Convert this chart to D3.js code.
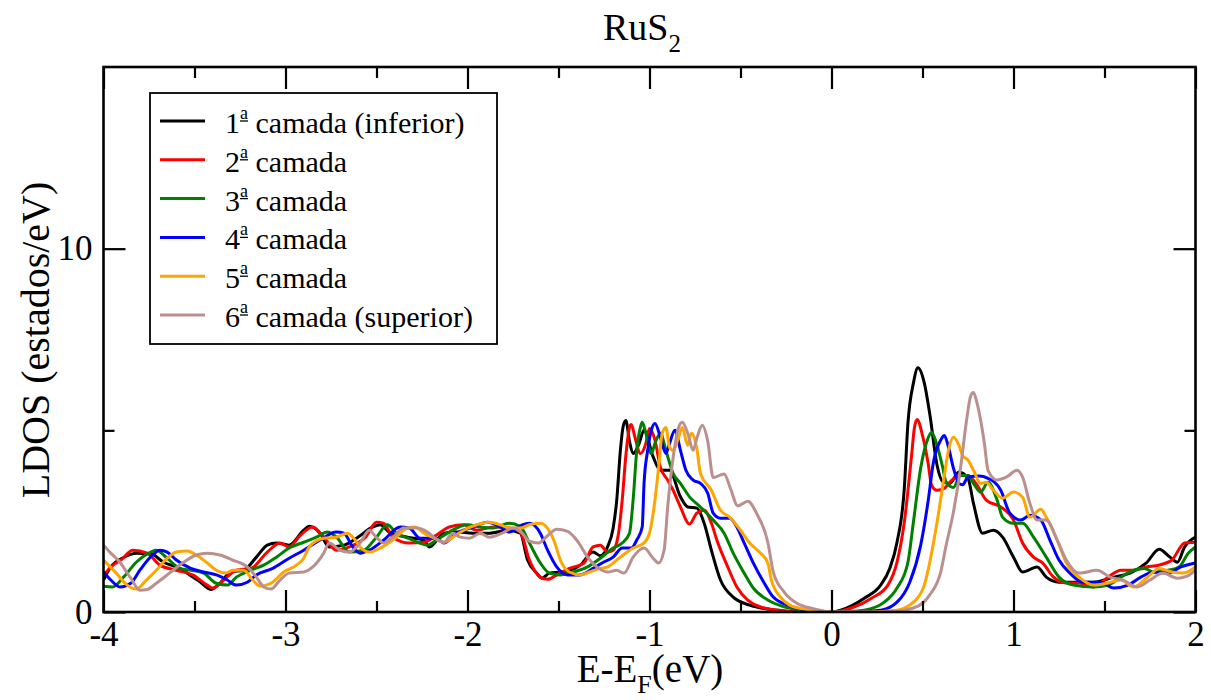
<!DOCTYPE html>
<html><head><meta charset="utf-8">
<script src="https://cdn.jsdelivr.net/npm/d3@7"></script>
<style>body{margin:0;background:#fff}svg{display:block}</style>
</head><body><svg id="c" width="1211" height="700"></svg>
<script>
const FONT = '"Liberation Serif", "Times New Roman", serif';
const layerNames = ["1", "2", "3", "4", "5", "6"];
const layerSuffix = [" camada (inferior)", " camada", " camada", " camada", " camada", " camada (superior)"];
const layerColors = ["#000000", "#ff0000", "#008000", "#0000ff", "#ffa500", "#bc8f8f"];
const xTicks = [-4, -3, -2, -1, 0, 1, 2];
const yTicks = [0, 10];

const layer1 = [[-4.00,0.88],[-3.96,1.24],[-3.89,1.50],[-3.82,1.62],[-3.74,1.60],[-3.67,1.37],[-3.58,1.20],[-3.52,1.00],[-3.47,0.83],[-3.41,0.62],[-3.36,0.79],[-3.30,1.10],[-3.23,1.15],[-3.16,1.51],[-3.10,1.84],[-3.05,1.90],[-2.98,1.84],[-2.90,2.25],[-2.87,2.36],[-2.81,2.17],[-2.76,1.79],[-2.68,1.84],[-2.61,2.03],[-2.52,2.34],[-2.48,2.40],[-2.43,2.20],[-2.33,2.06],[-2.24,1.98],[-2.21,1.79],[-2.13,2.17],[-2.06,2.20],[-1.97,2.17],[-1.88,2.17],[-1.78,2.25],[-1.71,2.17],[-1.67,1.43],[-1.62,1.07],[-1.59,0.93],[-1.55,1.07],[-1.48,1.10],[-1.38,1.29],[-1.31,1.65],[-1.27,1.55],[-1.23,1.80],[-1.20,2.30],[-1.18,3.08],[-1.16,4.45],[-1.145,5.10],[-1.13,5.27],[-1.11,4.70],[-1.09,4.36],[-1.06,4.60],[-1.03,5.00],[-0.98,4.27],[-0.94,3.90],[-0.89,3.90],[-0.83,3.17],[-0.79,2.89],[-0.74,2.86],[-0.70,2.45],[-0.66,1.70],[-0.61,0.88],[-0.54,0.41],[-0.45,0.19],[-0.35,0.08],[-0.26,0.03],[-0.15,0.00],[0.00,0.00],[0.05,0.05],[0.18,0.38],[0.27,0.74],[0.32,1.20],[0.36,1.92],[0.40,3.40],[0.42,5.20],[0.45,6.30],[0.475,6.72],[0.51,6.30],[0.54,5.45],[0.58,4.04],[0.61,3.60],[0.65,3.54],[0.70,3.85],[0.75,3.68],[0.78,2.99],[0.83,2.17],[0.89,2.25],[0.94,2.06],[1.00,1.51],[1.05,1.10],[1.13,1.24],[1.18,0.96],[1.25,0.82],[1.33,0.82],[1.44,0.82],[1.55,0.96],[1.64,1.07],[1.73,1.35],[1.80,1.73],[1.86,1.51],[1.90,1.37],[1.94,1.79],[2.00,2.06]];
const layer2 = [[-4.00,1.00],[-3.96,1.24],[-3.90,1.45],[-3.84,1.70],[-3.76,1.62],[-3.69,1.29],[-3.60,1.15],[-3.51,1.02],[-3.43,0.74],[-3.40,0.66],[-3.34,0.88],[-3.27,1.15],[-3.19,1.20],[-3.10,1.65],[-3.03,1.90],[-2.98,1.79],[-2.92,2.10],[-2.85,2.34],[-2.79,2.06],[-2.72,1.70],[-2.65,1.79],[-2.56,2.06],[-2.50,2.47],[-2.46,2.44],[-2.41,2.06],[-2.32,1.90],[-2.24,1.92],[-2.17,2.12],[-2.10,2.34],[-2.02,2.40],[-1.95,2.25],[-1.86,2.34],[-1.77,2.31],[-1.71,2.20],[-1.66,1.43],[-1.60,0.96],[-1.56,0.90],[-1.51,1.02],[-1.44,1.20],[-1.36,1.35],[-1.31,1.79],[-1.27,1.84],[-1.23,1.65],[-1.20,1.70],[-1.17,2.17],[-1.15,3.08],[-1.13,4.30],[-1.11,5.08],[-1.10,5.16],[-1.08,4.81],[-1.05,4.36],[-1.02,4.64],[-1.00,5.05],[-0.97,4.73],[-0.94,3.98],[-0.90,3.63],[-0.87,3.35],[-0.83,2.89],[-0.78,2.42],[-0.74,2.72],[-0.70,2.80],[-0.66,2.45],[-0.63,1.98],[-0.57,1.24],[-0.52,0.69],[-0.46,0.33],[-0.39,0.14],[-0.30,0.05],[-0.20,0.01],[0.00,0.00],[0.11,0.11],[0.22,0.38],[0.31,0.74],[0.36,1.37],[0.40,2.47],[0.44,4.31],[0.455,5.05],[0.47,5.30],[0.50,4.86],[0.53,4.12],[0.55,3.49],[0.58,3.35],[0.62,3.40],[0.65,3.57],[0.70,3.76],[0.75,3.76],[0.80,3.49],[0.85,3.08],[0.93,2.89],[1.00,2.53],[1.05,1.90],[1.11,1.51],[1.16,1.35],[1.22,0.96],[1.29,0.80],[1.36,0.80],[1.44,0.69],[1.52,0.96],[1.59,1.15],[1.66,1.15],[1.73,1.24],[1.80,1.29],[1.87,1.43],[1.94,1.90],[2.00,1.92]];
const layer3 = [[-4.00,0.71],[-3.95,0.69],[-3.89,0.96],[-3.82,1.37],[-3.74,1.65],[-3.71,1.70],[-3.65,1.48],[-3.58,1.20],[-3.52,1.15],[-3.45,1.07],[-3.38,0.79],[-3.32,0.74],[-3.27,0.96],[-3.19,1.15],[-3.12,1.29],[-3.05,1.51],[-2.98,1.76],[-2.90,1.92],[-2.83,2.06],[-2.77,2.20],[-2.72,2.06],[-2.65,1.65],[-2.57,1.70],[-2.50,2.06],[-2.44,2.40],[-2.39,2.17],[-2.31,2.00],[-2.22,1.84],[-2.17,1.98],[-2.10,2.20],[-2.00,2.40],[-1.93,2.34],[-1.86,2.31],[-1.77,2.44],[-1.71,2.35],[-1.66,1.90],[-1.60,1.35],[-1.55,1.07],[-1.49,1.02],[-1.42,1.10],[-1.34,1.24],[-1.27,1.48],[-1.20,1.76],[-1.15,1.90],[-1.11,2.17],[-1.09,3.08],[-1.07,4.45],[-1.05,5.08],[-1.04,5.22],[-1.02,4.92],[-0.99,4.36],[-0.97,4.64],[-0.94,4.92],[-0.91,4.45],[-0.87,3.81],[-0.83,3.54],[-0.78,3.17],[-0.72,2.89],[-0.65,2.53],[-0.59,2.17],[-0.54,1.62],[-0.48,1.07],[-0.43,0.66],[-0.35,0.33],[-0.26,0.14],[-0.17,0.05],[-0.08,0.00],[0.05,0.00],[0.18,0.05],[0.29,0.27],[0.36,0.66],[0.42,1.37],[0.45,2.47],[0.49,3.96],[0.53,4.78],[0.55,4.95],[0.58,4.59],[0.61,4.00],[0.63,3.57],[0.67,3.43],[0.71,3.76],[0.75,3.76],[0.78,3.54],[0.82,3.30],[0.86,3.57],[0.91,3.08],[0.94,2.61],[1.00,2.44],[1.05,2.44],[1.11,2.06],[1.18,1.51],[1.25,0.96],[1.33,0.74],[1.44,0.69],[1.52,0.74],[1.59,0.96],[1.66,1.15],[1.72,1.20],[1.77,1.10],[1.85,1.15],[1.91,1.24],[1.96,1.62],[2.00,1.79]];
const layer4 = [[-4.00,1.10],[-3.96,0.88],[-3.91,0.69],[-3.85,0.79],[-3.80,1.15],[-3.73,1.57],[-3.69,1.70],[-3.65,1.65],[-3.60,1.43],[-3.52,1.20],[-3.45,1.10],[-3.38,1.02],[-3.32,0.88],[-3.27,0.74],[-3.21,0.82],[-3.16,1.02],[-3.07,1.20],[-2.98,1.48],[-2.90,1.70],[-2.81,1.98],[-2.72,2.20],[-2.68,2.17],[-2.63,1.79],[-2.59,1.62],[-2.54,1.70],[-2.46,1.98],[-2.37,2.34],[-2.32,2.31],[-2.26,2.03],[-2.17,2.03],[-2.13,1.90],[-2.06,2.17],[-1.97,2.34],[-1.89,2.47],[-1.82,2.34],[-1.77,2.20],[-1.70,2.40],[-1.66,2.44],[-1.60,2.17],[-1.56,1.70],[-1.51,1.24],[-1.45,1.02],[-1.38,1.02],[-1.31,1.20],[-1.26,1.35],[-1.20,1.51],[-1.15,1.76],[-1.10,1.76],[-1.07,1.98],[-1.04,2.34],[-1.03,3.54],[-1.01,4.45],[-0.99,5.00],[-0.97,5.19],[-0.94,4.81],[-0.91,4.36],[-0.89,4.64],[-0.86,5.00],[-0.83,4.45],[-0.80,3.90],[-0.76,3.63],[-0.72,3.54],[-0.68,3.27],[-0.65,2.72],[-0.61,2.58],[-0.56,2.58],[-0.52,2.34],[-0.48,1.90],[-0.43,1.35],[-0.37,0.80],[-0.32,0.41],[-0.24,0.19],[-0.17,0.08],[-0.08,0.03],[0.00,0.00],[0.12,0.00],[0.27,0.05],[0.36,0.27],[0.43,0.82],[0.49,1.84],[0.53,3.02],[0.56,4.12],[0.60,4.73],[0.62,4.86],[0.64,4.59],[0.67,3.96],[0.70,3.54],[0.72,3.50],[0.75,3.71],[0.81,3.74],[0.86,3.68],[0.93,3.35],[0.98,2.72],[1.04,2.53],[1.09,2.66],[1.15,2.53],[1.20,1.98],[1.25,1.43],[1.31,1.07],[1.38,0.82],[1.48,0.82],[1.55,0.66],[1.63,0.74],[1.70,0.96],[1.77,1.10],[1.85,1.07],[1.92,1.24],[2.00,1.35]];
const layer5 = [[-4.00,1.43],[-3.93,1.07],[-3.87,0.74],[-3.82,0.63],[-3.77,0.85],[-3.71,1.15],[-3.65,1.48],[-3.60,1.65],[-3.54,1.68],[-3.49,1.57],[-3.43,1.35],[-3.38,1.15],[-3.33,1.07],[-3.29,1.15],[-3.23,1.15],[-3.18,0.88],[-3.14,0.71],[-3.08,0.79],[-3.01,1.10],[-2.94,1.29],[-2.90,1.48],[-2.87,1.79],[-2.79,2.03],[-2.72,2.06],[-2.66,2.17],[-2.62,2.00],[-2.59,1.79],[-2.54,1.65],[-2.48,1.76],[-2.41,1.98],[-2.33,2.31],[-2.29,2.34],[-2.24,2.17],[-2.18,2.03],[-2.13,1.92],[-2.08,2.06],[-2.02,2.25],[-1.95,2.40],[-1.88,2.47],[-1.82,2.40],[-1.77,2.31],[-1.71,2.31],[-1.66,2.40],[-1.60,2.44],[-1.56,2.30],[-1.52,1.90],[-1.49,1.43],[-1.44,1.10],[-1.38,1.02],[-1.33,1.10],[-1.27,1.20],[-1.23,1.24],[-1.16,1.51],[-1.09,1.76],[-1.03,1.90],[-1.00,2.17],[-0.97,3.08],[-0.95,3.98],[-0.93,4.92],[-0.91,5.08],[-0.89,4.53],[-0.87,4.45],[-0.84,4.81],[-0.82,5.08],[-0.79,4.59],[-0.77,4.92],[-0.74,4.50],[-0.72,3.81],[-0.66,3.35],[-0.61,2.80],[-0.56,2.61],[-0.50,2.25],[-0.45,1.90],[-0.39,1.62],[-0.35,1.35],[-0.33,0.88],[-0.28,0.41],[-0.23,0.19],[-0.15,0.08],[-0.05,0.02],[0.00,0.00],[0.20,0.00],[0.36,0.05],[0.45,0.27],[0.51,0.74],[0.54,1.37],[0.58,2.47],[0.62,3.76],[0.645,4.50],[0.67,4.81],[0.70,4.59],[0.72,4.31],[0.75,4.18],[0.78,3.90],[0.82,3.54],[0.85,3.57],[0.89,3.35],[0.94,3.13],[1.00,3.30],[1.05,3.16],[1.09,2.61],[1.15,2.83],[1.18,2.61],[1.24,1.98],[1.29,1.35],[1.36,0.96],[1.44,0.74],[1.52,0.80],[1.59,0.88],[1.66,0.69],[1.73,0.93],[1.80,1.20],[1.87,1.10],[1.93,1.07],[2.00,1.24]];
const layer6 = [[-4.00,1.84],[-3.96,1.62],[-3.91,1.37],[-3.85,0.93],[-3.80,0.60],[-3.76,0.62],[-3.71,0.79],[-3.63,1.10],[-3.56,1.37],[-3.49,1.57],[-3.43,1.62],[-3.36,1.57],[-3.29,1.43],[-3.21,1.24],[-3.16,0.96],[-3.12,0.69],[-3.08,0.63],[-3.03,0.88],[-2.98,1.07],[-2.90,1.10],[-2.85,1.24],[-2.79,1.62],[-2.76,1.90],[-2.70,1.70],[-2.65,1.65],[-2.59,1.90],[-2.54,2.25],[-2.50,2.05],[-2.46,1.90],[-2.41,2.06],[-2.35,2.31],[-2.28,2.31],[-2.22,2.20],[-2.17,2.00],[-2.13,1.92],[-2.08,2.17],[-2.04,2.06],[-1.99,2.03],[-1.93,2.17],[-1.88,2.06],[-1.81,2.17],[-1.75,2.31],[-1.70,2.17],[-1.66,1.95],[-1.61,1.90],[-1.56,2.10],[-1.51,2.28],[-1.45,2.22],[-1.40,1.98],[-1.34,1.51],[-1.29,1.24],[-1.23,1.10],[-1.18,1.15],[-1.14,1.07],[-1.09,1.51],[-1.03,1.76],[-0.98,1.48],[-0.95,1.35],[-0.92,1.70],[-0.90,2.89],[-0.87,4.26],[-0.84,5.08],[-0.82,5.22],[-0.79,4.92],[-0.76,4.45],[-0.74,4.78],[-0.71,5.14],[-0.68,4.70],[-0.65,3.70],[-0.59,3.80],[-0.555,3.40],[-0.515,2.92],[-0.46,3.05],[-0.41,2.70],[-0.35,1.92],[-0.32,1.10],[-0.26,0.55],[-0.19,0.24],[-0.10,0.09],[0.00,0.00],[0.30,0.00],[0.45,0.11],[0.54,0.47],[0.60,1.10],[0.63,1.84],[0.67,2.75],[0.71,4.00],[0.74,5.20],[0.765,5.95],[0.78,6.04],[0.80,5.74],[0.84,4.64],[0.86,3.90],[0.91,3.63],[0.96,3.71],[1.02,3.90],[1.05,3.71],[1.09,2.99],[1.13,2.53],[1.18,2.53],[1.24,1.98],[1.29,1.43],[1.36,1.07],[1.46,1.15],[1.53,0.96],[1.60,0.88],[1.68,0.69],[1.75,0.88],[1.82,1.07],[1.90,0.93],[1.95,0.98],[2.00,1.15]];
const layers = [layer1, layer2, layer3, layer4, layer5, layer6];

const svg = d3.select("#c").attr("font-family", FONT).style("font-family", FONT);
const L = 103.5, R = 1195.5, T = 67, B = 612;
const x = d3.scaleLinear().domain([-4, 2]).range([L, R]);
const y = d3.scaleLinear().domain([0, 15]).range([B, T]);

svg.append("rect").attr("width", 1211).attr("height", 700).attr("fill", "#fff");
svg.append("defs").append("clipPath").attr("id", "clip").append("rect")
  .attr("x", L).attr("y", T).attr("width", R - L).attr("height", B - T);

const line = d3.line().x(d => x(d[0])).y(d => y(d[1])).curve(d3.curveMonotoneX);
const plot = svg.append("g").attr("clip-path", "url(#clip)");
layers.forEach((data, i) => {
  plot.append("path").datum(data).attr("d", line)
    .attr("fill", "none").attr("stroke", layerColors[i])
    .attr("stroke-width", 3).attr("stroke-linejoin", "round");
});

const minorX = d3.range(-4, 2.01, 0.5).filter(v => Math.abs(v - Math.round(v)) > 0.1);
const minorY = [5];
function styleAxis(sel) {
  sel.attr("font-family", FONT).style("font-family", FONT);
  sel.select(".domain").remove();
  sel.selectAll(".tick line").attr("stroke", "#000").attr("stroke-width", 2.2);
  sel.selectAll(".tick text").attr("font-family", FONT).style("font-family", FONT).style("font-size", "35px").attr("fill", "#000");
}
svg.append("g").attr("transform", `translate(0,${B})`)
  .call(d3.axisBottom(x).tickValues(xTicks).tickSize(-22).tickPadding(9).tickFormat(d => String(d)))
  .call(styleAxis);
svg.append("g").attr("transform", `translate(0,${B})`)
  .call(d3.axisBottom(x).tickValues(minorX).tickSize(-11).tickFormat(""))
  .call(styleAxis);
svg.append("g").attr("transform", `translate(0,${T})`)
  .call(d3.axisTop(x).tickValues(xTicks).tickSize(-22).tickFormat(""))
  .call(styleAxis);
svg.append("g").attr("transform", `translate(0,${T})`)
  .call(d3.axisTop(x).tickValues(minorX).tickSize(-11).tickFormat(""))
  .call(styleAxis);
svg.append("g").attr("transform", `translate(${L},0)`)
  .call(d3.axisLeft(y).tickValues(yTicks).tickSize(-22).tickPadding(11))
  .call(styleAxis);
svg.append("g").attr("transform", `translate(${L},0)`)
  .call(d3.axisLeft(y).tickValues(minorY).tickSize(-11).tickFormat(""))
  .call(styleAxis);
svg.append("g").attr("transform", `translate(${R},0)`)
  .call(d3.axisRight(y).tickValues(yTicks).tickSize(-22).tickFormat(""))
  .call(styleAxis);
svg.append("g").attr("transform", `translate(${R},0)`)
  .call(d3.axisRight(y).tickValues(minorY).tickSize(-11).tickFormat(""))
  .call(styleAxis);

svg.append("rect").attr("x", L).attr("y", T).attr("width", R - L).attr("height", B - T)
  .attr("fill", "none").attr("stroke", "#000").attr("stroke-width", 2.6);

function txt(sel) { return sel.attr("font-family", FONT).style("font-family", FONT).attr("fill", "#000"); }

const title = txt(svg.append("text")).attr("x", 642).attr("y", 40).attr("text-anchor", "middle").style("font-size", "38px");
title.append("tspan").text("RuS");
title.append("tspan").attr("dy", 12).style("font-size", "25px").text("2");

const xl = txt(svg.append("text")).attr("x", 650).attr("y", 682).attr("text-anchor", "middle").style("font-size", "39px");
xl.append("tspan").text("E-E");
xl.append("tspan").attr("dy", 11).style("font-size", "26px").text("F");
xl.append("tspan").attr("dy", -11).text("(eV)");

txt(svg.append("text")).attr("transform", "translate(49,340) rotate(-90)").attr("text-anchor", "middle")
  .style("font-size", "40px").text("LDOS (estados/eV)");

const lg = svg.append("g");
lg.append("rect").attr("x", 150).attr("y", 93).attr("width", 347).attr("height", 251)
  .attr("fill", "#fff").attr("stroke", "#000").attr("stroke-width", 1.8);
layerNames.forEach((n, i) => {
  const yy = 121 + i * 38.8;
  lg.append("line").attr("x1", 160).attr("x2", 205).attr("y1", yy).attr("y2", yy)
    .attr("stroke", layerColors[i]).attr("stroke-width", 3);
  const base = yy + 12;
  const t = txt(lg.append("text")).attr("x", 225).attr("y", base).style("font-size", "30px");
  const t1 = t.append("tspan").text(n);
  const t2 = t.append("tspan").attr("dy", -14).style("font-size", "18px").text("a");
  t.append("tspan").attr("dy", 14).text(layerSuffix[i]);
  const w1 = t1.node().getComputedTextLength();
  const w2 = t2.node().getComputedTextLength();
  lg.append("line").attr("x1", 225 + w1).attr("x2", 225 + w1 + w2)
    .attr("y1", base - 12).attr("y2", base - 12)
    .attr("stroke", "#000").attr("stroke-width", 1.3);
});
</script></body></html>
